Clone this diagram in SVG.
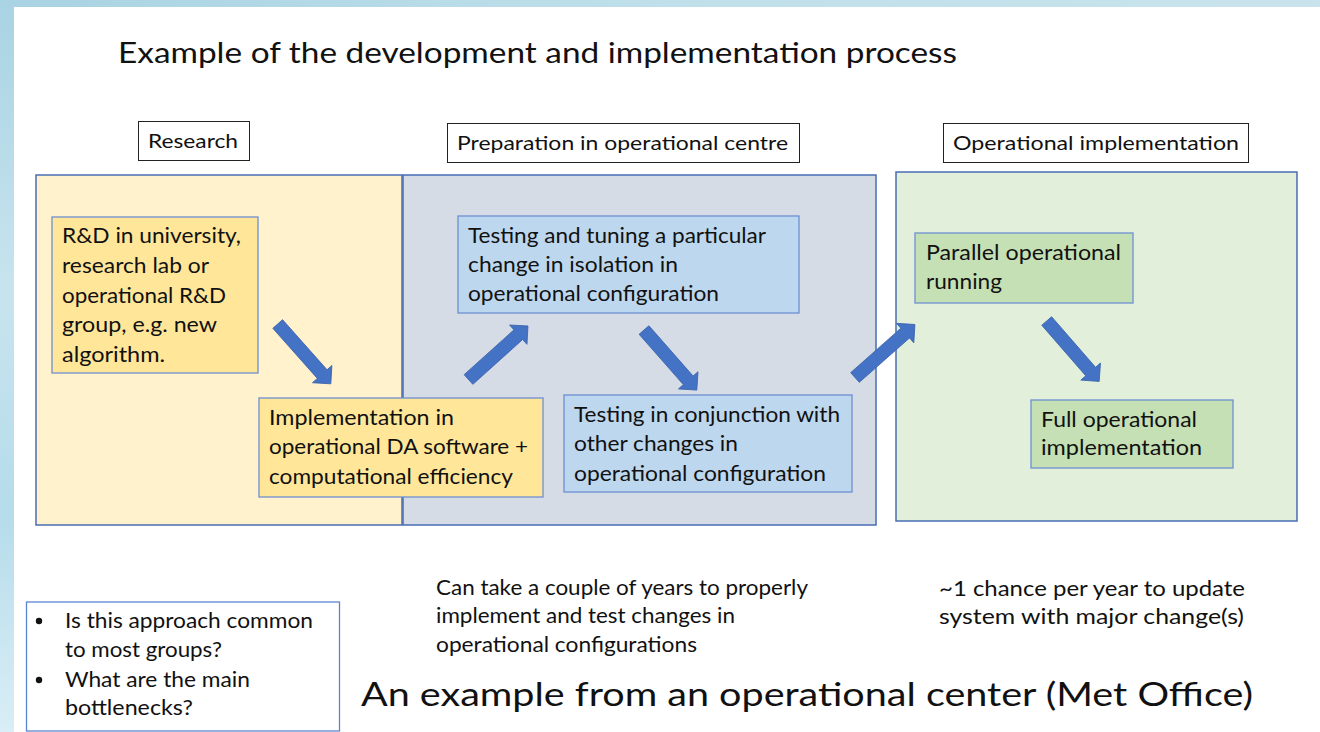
<svg xmlns="http://www.w3.org/2000/svg" width="1320" height="732" viewBox="0 0 1320 732">
<defs>
<linearGradient id="bgL" x1="0" y1="0" x2="0" y2="1">
<stop offset="0" stop-color="#a9d3e3"/>
<stop offset="0.4" stop-color="#c7e4ee"/>
<stop offset="0.7" stop-color="#b5dcea"/>
<stop offset="1" stop-color="#d9eef6"/>
</linearGradient>
<linearGradient id="bgT" x1="0" y1="0" x2="1" y2="0">
<stop offset="0" stop-color="#a9d3e3"/>
<stop offset="0.5" stop-color="#bfe0ea"/>
<stop offset="1" stop-color="#c9e3ec"/>
</linearGradient>
<path id="arr" d="M0,-6.5 L67,-6.5 L67,-13 L80,0 L67,13 L67,6.5 L0,6.5 Z"/>
</defs>
<style>
text{font-family:Lato,"Liberation Sans",sans-serif;fill:#111}
.t{font-size:21px}
.lbl{font-size:20px}
.lblbox{fill:#fff;stroke:#222;stroke-width:1}
.panel{stroke:#4a6db3;stroke-width:1.5}
.box{stroke:#6d8fd2;stroke-width:1.3}
.a{fill:#4472c4;stroke:#3a62ad;stroke-width:0.8}
</style>
<rect x="0" y="0" width="1320" height="732" fill="#fff"/>
<rect x="0" y="0" width="1320" height="7" fill="url(#bgT)"/>
<rect x="0" y="0" width="14" height="732" fill="url(#bgL)"/>

<text x="118" y="63" font-size="28" textLength="839" lengthAdjust="spacingAndGlyphs">Example of the development and implementation process</text>

<g id="label-research">
<rect class="lblbox" x="138.5" y="121.5" width="111" height="39"/>
<text class="lbl" x="148" y="148" textLength="90" lengthAdjust="spacingAndGlyphs">Research</text>
</g>
<g id="label-preparation">
<rect class="lblbox" x="447.5" y="123.5" width="352" height="39"/>
<text class="lbl" x="457" y="150" textLength="331" lengthAdjust="spacingAndGlyphs">Preparation in operational centre</text>
</g>
<g id="label-operational">
<rect class="lblbox" x="943.5" y="123.5" width="305" height="39"/>
<text class="lbl" x="953" y="150" textLength="286" lengthAdjust="spacingAndGlyphs">Operational implementation</text>
</g>

<g id="panel-research"><rect class="panel" x="36" y="175" width="366" height="350" fill="#fff2cc"/></g>
<g id="panel-preparation"><rect class="panel" x="403" y="175" width="473" height="350" fill="#d6dce5"/></g>
<g id="panel-operational"><rect class="panel" x="896" y="172" width="401" height="349" fill="#e2efda"/></g>

<g id="node-rd">
<rect class="box" x="52" y="217" width="206" height="156" fill="#ffe699"/>
<text class="t" x="62" y="243" textLength="179" lengthAdjust="spacingAndGlyphs">R&amp;D in university,</text>
<text class="t" x="62" y="273" textLength="147" lengthAdjust="spacingAndGlyphs">research lab or</text>
<text class="t" x="62" y="303" textLength="164" lengthAdjust="spacingAndGlyphs">operational R&amp;D</text>
<text class="t" x="62" y="332" textLength="155" lengthAdjust="spacingAndGlyphs">group, e.g. new</text>
<text class="t" x="62" y="362" textLength="103" lengthAdjust="spacingAndGlyphs">algorithm.</text>
</g>

<g id="node-impl">
<rect class="box" x="259" y="398" width="284" height="99" fill="#ffe699"/>
<text class="t" x="269" y="425" textLength="185" lengthAdjust="spacingAndGlyphs">Implementation in</text>
<text class="t" x="269" y="454" textLength="259" lengthAdjust="spacingAndGlyphs">operational DA software +</text>
<text class="t" x="269" y="484" textLength="244" lengthAdjust="spacingAndGlyphs">computational efficiency</text>
</g>

<g id="node-tuning">
<rect class="box" x="458" y="216" width="341" height="97" fill="#bdd7ee"/>
<text class="t" x="468" y="243" textLength="298" lengthAdjust="spacingAndGlyphs">Testing and tuning a particular</text>
<text class="t" x="468" y="272" textLength="210" lengthAdjust="spacingAndGlyphs">change in isolation in</text>
<text class="t" x="468" y="301" textLength="251" lengthAdjust="spacingAndGlyphs">operational configuration</text>
</g>

<g id="node-conjunction">
<rect class="box" x="564" y="395" width="288" height="97" fill="#bdd7ee"/>
<text class="t" x="574" y="422" textLength="266" lengthAdjust="spacingAndGlyphs">Testing in conjunction with</text>
<text class="t" x="574" y="451" textLength="164" lengthAdjust="spacingAndGlyphs">other changes in</text>
<text class="t" x="574" y="481" textLength="252" lengthAdjust="spacingAndGlyphs">operational configuration</text>
</g>

<g id="node-parallel">
<rect class="box" x="915" y="233" width="218" height="70" fill="#c5e0b4"/>
<text class="t" x="926" y="260" textLength="195" lengthAdjust="spacingAndGlyphs">Parallel operational</text>
<text class="t" x="926" y="289" textLength="76" lengthAdjust="spacingAndGlyphs">running</text>
</g>

<g id="node-full">
<rect class="box" x="1031" y="400" width="202" height="68" fill="#c5e0b4"/>
<text class="t" x="1041" y="427" textLength="156" lengthAdjust="spacingAndGlyphs">Full operational</text>
<text class="t" x="1041" y="455" textLength="161" lengthAdjust="spacingAndGlyphs">implementation</text>
</g>

<g id="connectors">
<use href="#arr" class="a" transform="translate(277.7,324) rotate(48.4)"/>
<use href="#arr" class="a" transform="translate(468.5,379.5) rotate(-42)"/>
<use href="#arr" class="a" transform="translate(644,330) rotate(48.7)"/>
<use href="#arr" class="a" transform="translate(855,377.5) rotate(-41.5)"/>
<use href="#arr" class="a" transform="translate(1046.7,321) rotate(49)"/>
</g>

<g id="note-years">
<text class="t" x="436" y="595" textLength="372" lengthAdjust="spacingAndGlyphs">Can take a couple of years to properly</text>
<text class="t" x="436" y="623" textLength="299" lengthAdjust="spacingAndGlyphs">implement and test changes in</text>
<text class="t" x="436" y="652" textLength="261" lengthAdjust="spacingAndGlyphs">operational configurations</text>
</g>

<g id="note-chance">
<text class="t" x="939" y="596" textLength="306" lengthAdjust="spacingAndGlyphs">~1 chance per year to update</text>
<text class="t" x="939" y="624" textLength="305" lengthAdjust="spacingAndGlyphs">system with major change(s)</text>
</g>

<g id="questions">
<rect x="26.5" y="602" width="313" height="129" fill="#fff" stroke="#5b84cf" stroke-width="1.3"/>
<circle cx="39" cy="621" r="3.2" fill="#111"/>
<circle cx="39" cy="680" r="3.2" fill="#111"/>
<text class="t" x="65" y="628" textLength="248" lengthAdjust="spacingAndGlyphs">Is this approach common</text>
<text class="t" x="65" y="657" textLength="157" lengthAdjust="spacingAndGlyphs">to most groups?</text>
<text class="t" x="65" y="687" textLength="185" lengthAdjust="spacingAndGlyphs">What are the main</text>
<text class="t" x="65" y="715" textLength="128" lengthAdjust="spacingAndGlyphs">bottlenecks?</text>
</g>

<text x="361" y="706" font-size="33" textLength="892" lengthAdjust="spacingAndGlyphs">An example from an operational center (Met Office)</text>
</svg>
